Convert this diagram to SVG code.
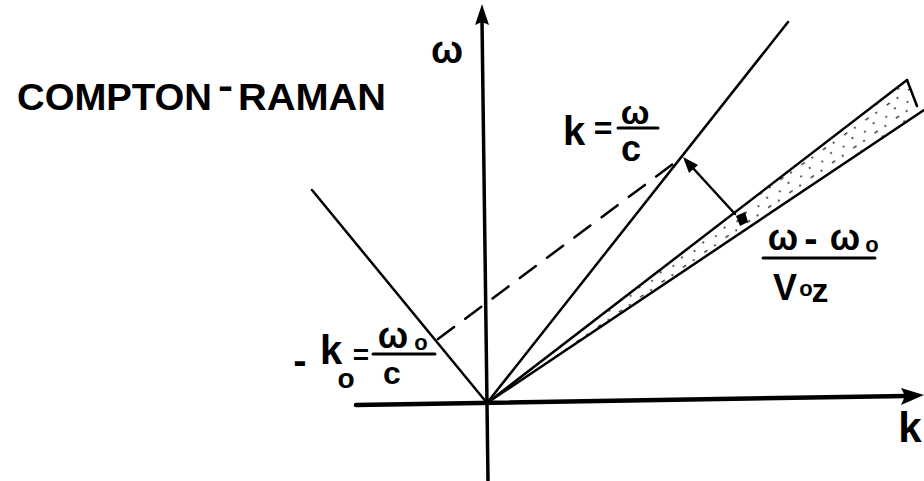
<svg xmlns="http://www.w3.org/2000/svg" width="924" height="481" viewBox="0 0 924 481">
<style>
.ln{stroke:#000;stroke-width:2.5;fill:none;stroke-linecap:round}
.ax{stroke:#000;fill:none;stroke-linecap:round}
.t{font-family:"Liberation Sans","DejaVu Sans",sans-serif;fill:#000;text-anchor:middle;font-weight:bold}
.ti{font-family:"Liberation Sans","DejaVu Sans",sans-serif;fill:#000;font-weight:bold}
.bar{stroke:#000;stroke-width:3;stroke-linecap:round}
</style>
<defs>
<pattern id="stip" width="26" height="16" patternUnits="userSpaceOnUse" patternTransform="rotate(-35)">
<circle cx="3" cy="3" r="1.1" fill="#000"/>
<rect x="16" y="2" width="4" height="1.4" fill="#000"/>
<circle cx="9" cy="12" r="1" fill="#000"/>
<circle cx="21" cy="10" r="1.1" fill="#000"/>
</pattern>
</defs>
<rect width="924" height="481" fill="#fff"/>
<g id="title">
<text class="ti" font-size="37" x="17" y="110" textLength="195" lengthAdjust="spacingAndGlyphs">COMPTON</text>
<text class="ti" font-size="37" x="218" y="98" textLength="15" lengthAdjust="spacingAndGlyphs">-</text>
<text class="ti" font-size="37" x="238" y="110" textLength="148" lengthAdjust="spacingAndGlyphs">RAMAN</text>
</g>
<g id="axes">
<line class="ax" x1="482" y1="20" x2="488" y2="481" stroke-width="3.5"/>
<polygon points="482,4 475,25 482,22 489,25" fill="#000"/>
<line class="ax" x1="356" y1="405" x2="906" y2="396" stroke-width="4.5"/>
<polygon points="924,395 901,388 905,396 901,405" fill="#000"/>
<text class="t" font-size="38" x="447" y="63">ω</text>
<text class="t" font-size="42" x="910" y="442">k</text>
</g>
<g id="band">
<polygon points="487,403 907,80 917,106 924,110" fill="url(#stip)" opacity="0.8"/>
<line class="ln" x1="487" y1="403" x2="907" y2="80"/>
<line class="ln" x1="487" y1="403" x2="924" y2="110"/>
<line class="ln" x1="907" y1="80" x2="917" y2="106"/>
<polygon points="736,216 745,212 748,222 740,226" fill="#000"/>
</g>
<g id="connectors">
<line class="ln" x1="312" y1="190" x2="487" y2="403"/>
<line class="ln" x1="487" y1="403" x2="788" y2="22"/>
<line class="ln" x1="438" y1="339" x2="681" y2="158" stroke-dasharray="20 14"/>
<line class="ln" x1="735" y1="214" x2="692" y2="167"/>
<polygon points="683,157 698,165 689,173" fill="#000"/>
</g>
<g id="label-light">
<text class="t" font-size="40" x="574" y="145">k</text>
<text class="t" font-size="32" x="603" y="139">=</text>
<text class="t" font-size="34" x="635" y="124">ω</text>
<line class="bar" x1="618" y1="128" x2="658" y2="128"/>
<text class="t" font-size="36" x="631" y="161">c</text>
</g>
<g id="label-k0">
<text class="t" font-size="40" x="300" y="374">-</text>
<text class="t" font-size="40" x="331" y="364">k</text>
<text class="t" font-size="28" x="346" y="388">o</text>
<text class="t" font-size="28" x="361" y="364">=</text>
<text class="t" font-size="36" x="393" y="348">ω</text>
<text class="t" font-size="22" x="421" y="350">o</text>
<line class="bar" x1="373" y1="354" x2="435" y2="354"/>
<text class="t" font-size="32" x="392" y="384">c</text>
</g>
<g id="label-beam">
<text class="t" font-size="36" x="783" y="250">ω</text>
<text class="t" font-size="40" x="811" y="252">-</text>
<text class="t" font-size="36" x="845" y="250">ω</text>
<text class="t" font-size="22" x="872" y="252">o</text>
<line class="bar" x1="763" y1="258" x2="875" y2="258"/>
<text class="t" font-size="36" x="785" y="300">V</text>
<text class="t" font-size="22" x="806" y="296">o</text>
<text class="t" font-size="34" x="820" y="302">z</text>
</g>
</svg>
